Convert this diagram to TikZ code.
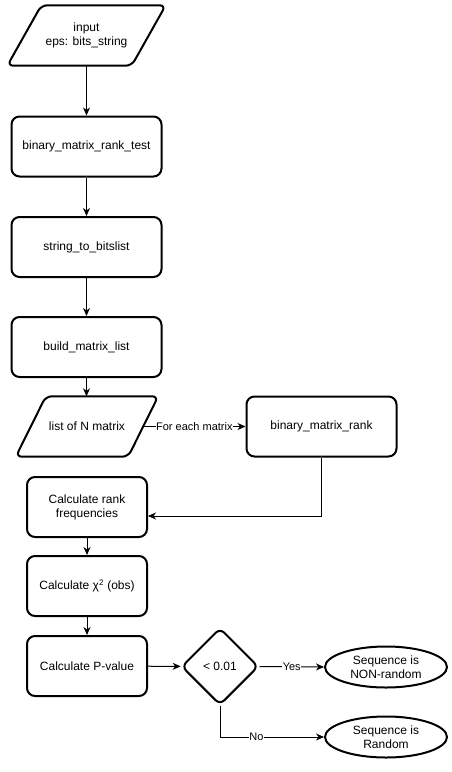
\documentclass[tikz,border=0pt]{standalone}
\usepackage{fontspec}
\setmainfont{Liberation Sans}
\usetikzlibrary{arrows.meta,shapes.geometric}

\begin{document}
\begin{tikzpicture}[x=1pt,y=-1pt,
  every node/.style={font=\fontsize{12}{14}\selectfont, align=center},
  procbox/.style={draw, line width=2pt, rounded corners=8pt, minimum width=150pt, minimum height=60pt, inner sep=0pt},
  smallbox/.style={procbox, minimum width=120pt},
  iobox/.style={inner sep=0pt, minimum height=60pt},
  shapeline/.style={line width=2pt, rounded corners=6pt},
  decision/.style={draw, line width=2pt, diamond, rounded corners=6pt, minimum width=77pt, minimum height=77pt, inner sep=0pt},
  terminal/.style={draw, line width=2pt, ellipse, minimum width=122pt, minimum height=41pt, inner sep=0pt},
  flow/.style={line width=1pt, -{Stealth[length=8pt,width=7pt,inset=2.5pt]}},
  edgelabel/.style={font=\fontsize{11}{13}\selectfont, fill=white, inner sep=0.5pt}]

\useasboundingbox (0,0) rectangle (452,772);
\fill[white] (0,0) rectangle (452,772);

% input parallelogram (node spans the mid-line of the slanted sides)
\node[iobox, minimum width=124pt] (input) at (86.5,35.5) {input\\eps: bits\_string};
\draw[shapeline] ([xshift=-17pt]input.south west) -- ([xshift=17pt]input.north west)
  -- ([xshift=17pt]input.north east) -- ([xshift=-17pt]input.south east) -- cycle;

\node[procbox] (test) at (86.5,146.5) {binary\_matrix\_rank\_test};
\node[procbox] (bits) at (86.5,247) {string\_to\_bitslist};
\node[procbox] (build) at (86.5,347) {build\_matrix\_list};

% list of matrices parallelogram
\node[iobox, minimum width=112pt] (list) at (87,426.5) {list of N matrix};
\draw[shapeline] ([xshift=-15pt]list.south west) -- ([xshift=15pt]list.north west)
  -- ([xshift=15pt]list.north east) -- ([xshift=-15pt]list.south east) -- cycle;

\node[procbox] (rank) at (321.5,426.5) {binary\_matrix\_rank};
\node[smallbox] (freq) at (87,507) {Calculate rank\\frequencies};
\node[smallbox] (chi) at (87,586) {Calculate χ\textsuperscript{2} (obs)};
\node[smallbox] (pval) at (87,666) {Calculate P-value};
\node[decision] (dec) at (220,666.5) {< 0.01};
\node[terminal] (nonrand) at (386,667) {Sequence is\\NON-random};
\node[terminal] (rand) at (386,737) {Sequence is\\Random};

% connectors
\draw[flow] (input) -- (test);
\draw[flow] (test) -- (bits);
\draw[flow] (bits) -- (build);
\draw[flow] (build) -- (build |- list.north);
\draw[flow] (list.east) -- node[edgelabel] {For each matrix} (rank.west);
\draw[flow] (rank.south) |- ([yshift=-9pt]freq.east);
\draw[flow] (freq) -- (chi);
\draw[flow] (chi) -- (pval);
\draw[flow] (pval) -- (dec);
\draw[flow] (dec.east) -- node[edgelabel] {Yes} (nonrand.west);
\draw[flow] (dec.south) |- node[edgelabel, pos=0.675] {No} (rand.west);

\end{tikzpicture}
\end{document}
